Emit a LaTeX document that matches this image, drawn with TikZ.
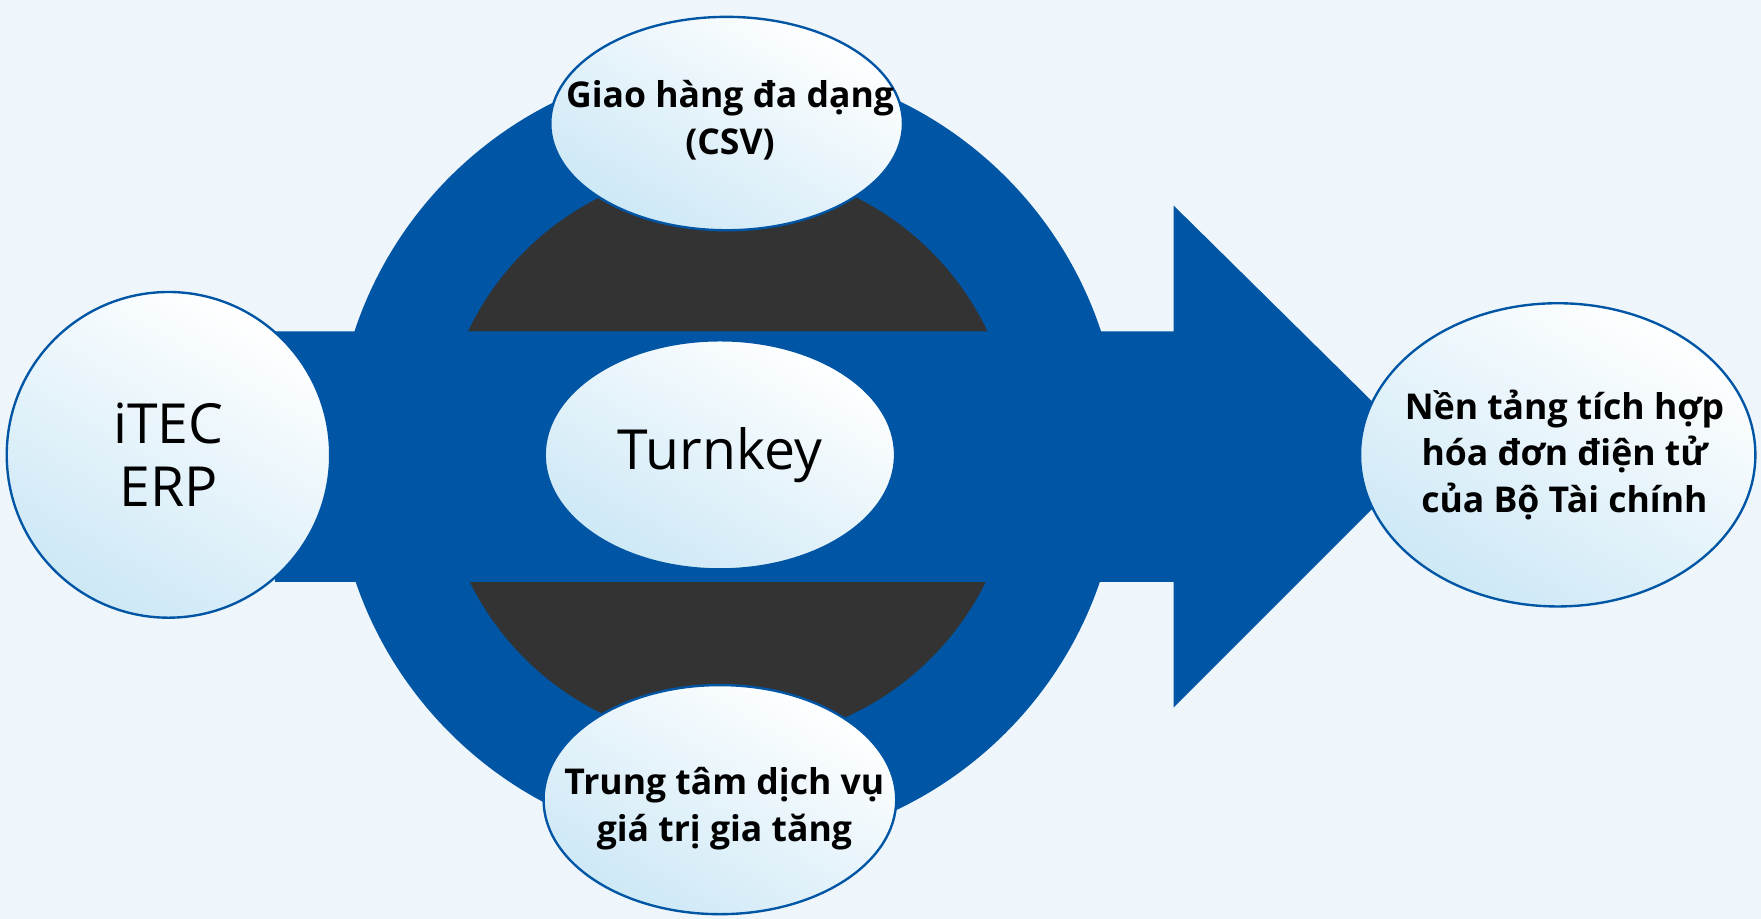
\documentclass[tikz,border=0pt]{standalone}
\usepackage{fontspec}
\setmainfont{Open Sans}
\begin{document}
\begin{tikzpicture}[x=0.01cm,y=-0.01cm,
  bub/.style={draw=mblue,line width=0.6pt,top color=white,bottom color=lblue,shading angle=-30},
  lbl/.style={font=\bfseries\fontsize{9}{11.8}\selectfont,align=center,text=black}]
\definecolor{mblue}{HTML}{0055A4}
\definecolor{dgray}{HTML}{333333}
\definecolor{lblue}{HTML}{CDE8F6}
\definecolor{bg}{HTML}{EEF6FB}
\fill[bg] (0,0) rectangle (1568,818);
\useasboundingbox (0,0) rectangle (1568,818);
\fill[mblue] (648,405) circle[radius=350];
\fill[dgray] (648,405) circle[radius=256];
\fill[mblue] (245,295) -- (1045,295) -- (1045,183) -- (1270,405) -- (1045,630) -- (1045,518) -- (245,518) -- cycle;
\shade[bub] (150,405) ellipse[x radius=144,y radius=145];
\shade[bub] (647,110) ellipse[x radius=157,y radius=95];
\shade[bub] (641,405) ellipse[x radius=156,y radius=102];
\shade[bub] (641,712) ellipse[x radius=157,y radius=102];
\shade[bub] (1387,405) ellipse[x radius=176,y radius=135];
\node[font=\fontsize{14}{16}\selectfont,align=center] (erp) at (150,405) {iTEC\\ERP};
\node[font=\fontsize{14}{16}\selectfont] (tk) at (641,405) {Turnkey};
\node[lbl] (top) at (650,107) {Giao hàng đa dạng\\(CSV)};
\node[lbl] (bot) at (645,720) {Trung tâm dịch vụ\\giá trị gia tăng};
\node[lbl] (rt) at (1393,405) {Nền tảng tích hợp\\hóa đơn điện tử\\của Bộ Tài chính};
\end{tikzpicture}
\end{document}
